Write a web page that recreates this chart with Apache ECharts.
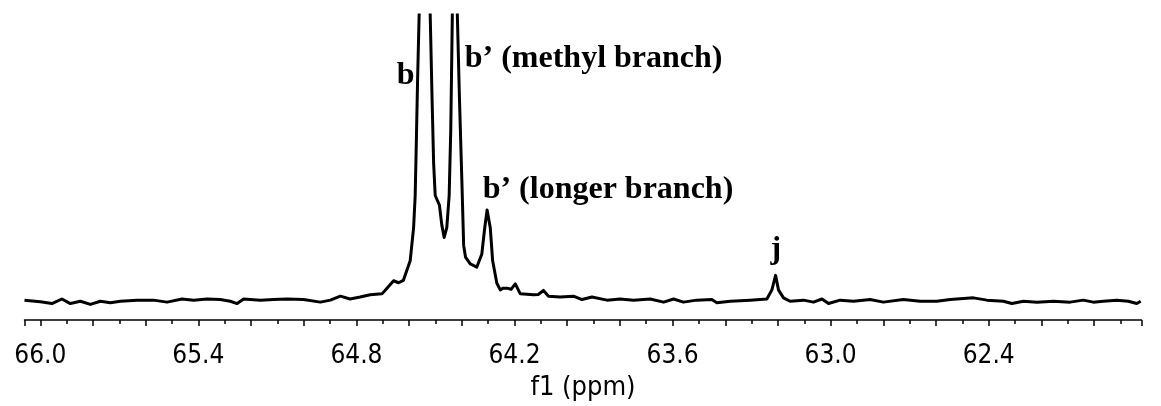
<!DOCTYPE html>
<html>
<head>
<meta charset="utf-8">
<script src="https://cdn.jsdelivr.net/npm/echarts@6/dist/echarts.min.js"></script>
<style>
html,body{margin:0;padding:0;background:#fff;}
#chart{width:1161px;height:406px;}
</style>
</head>
<body>
<div id="chart"></div>
<script>
// chemical shift (ppm) of each sampled point of the spectrum
const shiftPpm = [
  66.06, 66.00, 65.956, 65.918, 65.886, 65.848, 65.810, 65.772, 65.734, 65.696,
  65.633, 65.571, 65.519, 65.462, 65.418, 65.367, 65.317, 65.279, 65.253, 65.228,
  65.165, 65.115, 65.064, 65.001, 64.937, 64.899, 64.861, 64.824, 64.786, 64.748,
  64.703, 64.684, 64.659, 64.640, 64.622, 64.596, 64.583, 64.577, 64.573, 64.568,
  64.562, 64.541, 64.520, 64.513, 64.507, 64.501, 64.485, 64.476, 64.467, 64.457,
  64.448, 64.442, 64.436, 64.426, 64.417, 64.409, 64.400, 64.393, 64.386, 64.368,
  64.343, 64.324, 64.313, 64.304, 64.292, 64.283, 64.267, 64.254, 64.243, 64.229,
  64.213, 64.197, 64.178, 64.128, 64.110, 64.090, 64.071, 64.027, 63.976, 63.944,
  63.906, 63.849, 63.799, 63.748, 63.685, 63.634, 63.596, 63.559, 63.508, 63.451,
  63.432, 63.381, 63.306, 63.242, 63.223, 63.209, 63.198, 63.179, 63.154, 63.103,
  63.065, 63.033, 63.008, 62.964, 62.913, 62.850, 62.800, 62.724, 62.660, 62.597,
  62.546, 62.458, 62.407, 62.344, 62.312, 62.268, 62.217, 62.154, 62.091, 62.041,
  62.003, 61.965, 61.914, 61.870, 61.838, 61.823
];
// signal intensity (arbitrary units) at each shift above
const intensity = [
  0.0, -0.6, -1.2, 0.4, -1.2, -0.4, -1.5, -0.4, -0.9, -0.4,
  0.0, 0.0, -0.7, 0.4, 0.0, 0.4, 0.2, -0.4, -1.2, 0.4,
  0.0, 0.2, 0.4, 0.2, -0.7, 0.0, 1.4, 0.4, 1.1, 1.9,
  2.2, 4.2, 6.8, 6.1, 6.9, 13.8, 25.4, 36.7, 53.8, 76.7,
  100, 180, 100, 70.9, 48.0, 36.7, 33.3, 26.4, 22.0, 25.4,
  36.7, 59.6, 100, 140, 100, 70.9, 42.5, 19.2, 15.1, 12.7,
  11.6, 16.2, 25.4, 31.6, 25.4, 13.8, 5.9, 3.6, 4.2, 4.2,
  3.8, 5.7, 2.2, 1.9, 2.0, 3.4, 1.4, 1.1, 1.4, 0.2,
  1.1, 0.0, 0.4, 0.0, 0.4, -0.7, 0.4, -0.7, 0.0, 0.2,
  -0.9, -0.4, 0.0, 0.4, 3.6, 8.7, 3.6, 0.8, -0.4, 0.0,
  -0.7, 0.4, -1.2, 0.0, -0.4, 0.2, -0.7, 0.2, -0.4, -0.4,
  0.2, 0.8, 0.0, -0.4, -1.2, -0.4, -0.7, -0.4, -0.7, 0.0,
  -0.7, -0.4, 0.0, -0.4, -1.2, -0.4
];
// tick labels shown on the shift axis
const tickLabels = [66.0, 65.4, 64.8, 64.2, 63.6, 63.0, 62.4];
// peak annotations: text, anchor shift (ppm), anchor intensity
const annoText = ['b', 'b\u2019 (methyl branch)', 'b\u2019 (longer branch)', 'j'];
const annoPpm = [64.645, 64.387, 64.319, 63.226];
const annoVal = [78.5, 84.6, 38.4, 17.5];

const chart = echarts.init(document.getElementById('chart'), null, {renderer: 'canvas'});
const tickFont = '"DejaVu Sans Condensed", "DejaVu Sans", sans-serif';
const annoFont = '"Liberation Serif", "Times New Roman", serif';

const option = {
  animation: false,
  backgroundColor: '#ffffff',
  grid: {left: 24.5, right: 19.5, top: 15, bottom: 78.3, containLabel: false},
  xAxis: {
    type: 'value',
    min: 61.82,
    max: 66.06,
    inverse: true,
    minInterval: 0.2,
    maxInterval: 0.2,
    name: 'f1 (ppm)',
    nameLocation: 'middle',
    nameGap: 44,
    nameTextStyle: {color: '#000', fontFamily: tickFont, fontSize: 27},
    splitLine: {show: false},
    axisLine: {show: true, onZero: false, lineStyle: {color: '#000', width: 1.5}},
    axisTick: {show: true, length: 6, lineStyle: {color: '#000', width: 1.5}},
    minorTick: {show: true, splitNumber: 2, length: 4, lineStyle: {color: '#000', width: 1.5}},
    axisLabel: {
      color: '#000', fontFamily: tickFont, fontSize: 26, margin: 23,
      showMinLabel: false, showMaxLabel: false,
      formatter: function (v) {
        for (const t of tickLabels) { if (Math.abs(v - t) < 1e-6) return t.toFixed(1); }
        return '';
      }
    }
  },
  yAxis: {type: 'value', min: -7, max: 100, show: false},
  series: [
    {
      type: 'line',
      data: shiftPpm.map((p, i) => [p, intensity[i]]),
      symbol: 'none',
      smooth: false,
      clip: true,
      lineStyle: {color: '#000', width: 3, join: 'round'},
      z: 2
    },
    {
      type: 'scatter',
      data: annoText.map((t, i) => ({name: t, value: [annoPpm[i], annoVal[i]]})),
      symbol: 'circle',
      symbolSize: 1,
      itemStyle: {color: 'rgba(0,0,0,0)'},
      clip: false,
      silent: true,
      label: {
        show: true,
        position: [0, 0],
        align: 'left',
        verticalAlign: 'middle',
        formatter: function (p) { return p.name; },
        color: '#000000',
        opacity: 1,
        textBorderWidth: 0,
        fontFamily: annoFont,
        fontWeight: 'bold',
        fontSize: 32
      },
      labelLayout: {hideOverlap: false},
      z: 3
    }
  ]
};
chart.setOption(option);
</script>
</body>
</html>
